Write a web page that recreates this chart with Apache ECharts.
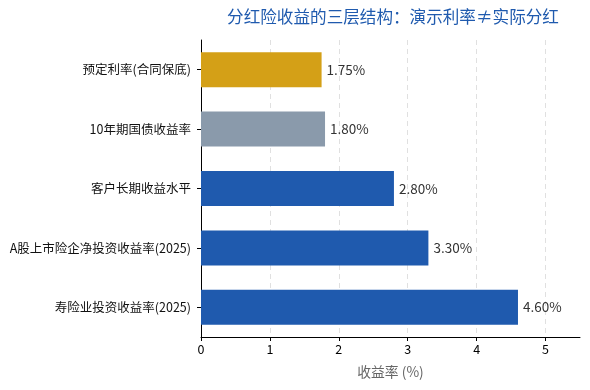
<!DOCTYPE html>
<html><head><meta charset="utf-8">
<script src="https://cdn.jsdelivr.net/npm/echarts@6/dist/echarts.min.js"></script>
<style>html,body{margin:0;padding:0;background:#fff}#c{width:590px;height:390px}</style>
</head><body><div id="c"></div>
<script>
const categories = ['寿险业投资收益率(2025)','A股上市险企净投资收益率(2025)','客户长期收益水平','10年期国债收益率','预定利率(合同保底)'];
const values = [4.60, 3.30, 2.80, 1.80, 1.75];
const colors = ['#1f5aae','#1f5aae','#1f5aae','#8a9aab','#d4a017'];
const xTicks = [0,1,2,3,4,5];
const font = '"Noto Sans CJK SC","Noto Sans",sans-serif';
const chart = echarts.init(document.getElementById('c'));
chart.setOption({
  animation:false,
  title:{text:'分红险收益的三层结构：演示利率≠实际分红',left:388,textAlign:'center',top:3,
    textStyle:{color:'#1f5aae',fontSize:16.6,fontWeight:'normal',fontFamily:font}},
  grid:{left:201,right:10,top:40,bottom:53,containLabel:false},
  xAxis:{type:'value',min:0,max:5.5,interval:1,
    name:'收益率 (%)',nameLocation:'middle',nameGap:28,
    nameTextStyle:{color:'#666',fontSize:13.8,fontFamily:font},
    axisLine:{show:true,lineStyle:{color:'#000'}},
    axisTick:{show:true,length:4,customValues:xTicks,lineStyle:{color:'#000'}},
    axisLabel:{color:'#000',fontSize:12.5,fontFamily:font,margin:6,customValues:xTicks},
    splitLine:{show:true,lineStyle:{color:'#e0e0e0',type:[5,4]}}},
  yAxis:{type:'category',data:categories,
    axisLine:{show:true,lineStyle:{color:'#000'}},
    axisTick:{show:true,length:4,alignWithLabel:true,lineStyle:{color:'#000'}},
    axisLabel:{color:'#111',fontSize:12.5,fontFamily:font,margin:10}},
  series:[{type:'bar',barCategoryGap:'41%',
    data:values.map((v,i)=>({value:v,itemStyle:{color:colors[i]}})),
    label:{show:true,position:'right',distance:5,color:'#333',fontSize:13.5,fontFamily:font,
      formatter:p=>p.value.toFixed(2)+'%'}}]
});
</script></body></html>
